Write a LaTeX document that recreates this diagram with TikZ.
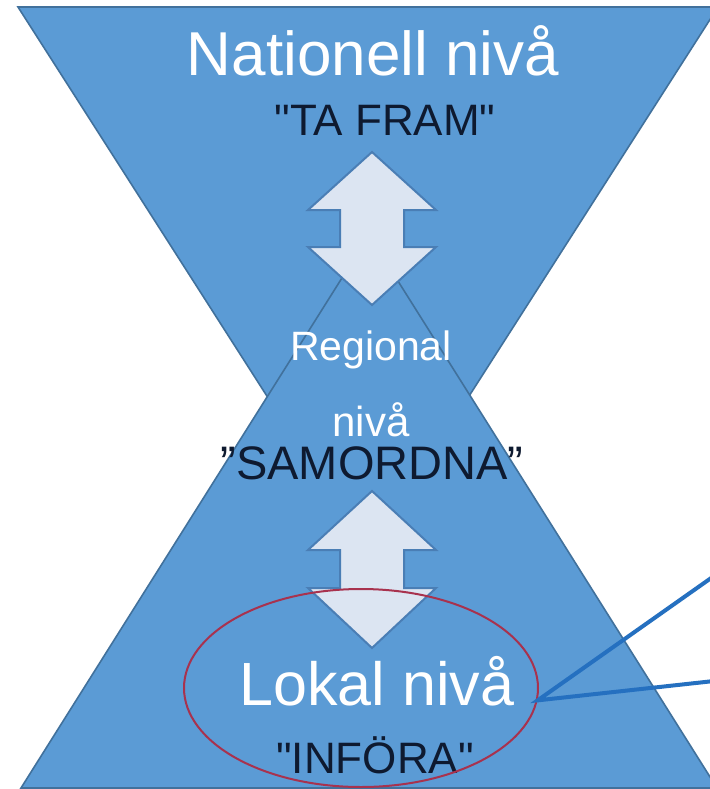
\documentclass[tikz,border=0pt]{standalone}
\usepackage{fontspec}
\setmainfont{Liberation Sans}[Ligatures=TeXOff]
\usetikzlibrary{shapes.geometric}
\definecolor{tri}{HTML}{5B9BD5}
\definecolor{triline}{HTML}{41719C}
\definecolor{arrfill}{HTML}{DCE5F2}
\definecolor{arrline}{HTML}{4A7EB5}
\definecolor{darktxt}{HTML}{0E1A30}
\definecolor{ellred}{HTML}{A8324E}
\definecolor{conncol}{HTML}{2570C0}
\tikzset{
  level/.style={fill=tri, draw=triline, line width=0.8pt, line join=miter},
  dblarrow/.style={fill=arrfill, draw=arrline, line width=1pt, line join=miter},
  whitetxt/.style={anchor=base, inner sep=0pt, text=white},
  blacktxt/.style={anchor=base, inner sep=0pt, text=darktxt},
  conn/.style={draw=conncol, line width=2pt, line join=miter},
}
\begin{document}
\begin{tikzpicture}[x=0.5pt,y=-0.5pt]
\useasboundingbox (0,0) rectangle (710,789);
\fill[white] (0,0) rectangle (710,789);
\clip (0,0) rectangle (710,789);
% top (national) triangle, pointing down
\path[level] (18,7) -- (718,7) -- (368,554) -- cycle;
% bottom (local) triangle, pointing up
\path[level] (369,235) -- (717,788) -- (21,788) -- cycle;
% upper double arrow
\path[dblarrow] (372,152) -- (436,210) -- (404,210) -- (404,247) -- (436,247) -- (372,305)
  -- (308,247) -- (340,247) -- (340,210) -- (308,210) -- cycle;
% lower double arrow
\path[dblarrow] (372,491) -- (436,550) -- (404,550) -- (404,588) -- (436,588) -- (372,648)
  -- (308,588) -- (340,588) -- (340,550) -- (308,550) -- cycle;
% texts
\node[whitetxt, font=\fontsize{31}{31}\selectfont] (nat) at (373,75) {Nationell nivå};
\node[blacktxt, font=\fontsize{22}{22}\selectfont] (taf) at (385,135) {"TA FRAM"};
\node[whitetxt, font=\fontsize{20.5}{20.5}\selectfont] (reg1) at (371,360) {Regional};
\node[whitetxt, font=\fontsize{21}{21}\selectfont, text depth=0pt] (reg2) at (371,436) {nivå};
\node[blacktxt, font=\fontsize{23.5}{23.5}\selectfont, text height=17pt] (sam) at (372,479) {”SAMORDNA”};
\node[whitetxt, font=\fontsize{30.5}{30.5}\selectfont] (lok) at (377,705) {Lokal nivå};
\node[blacktxt, font=\fontsize{22}{22}\selectfont] (inf) at (375,773) {"INFÖRA"};
% red ellipse
\node[ellipse, draw=ellred, line width=1pt, minimum width=177pt, minimum height=99pt, inner sep=0pt] (ell) at (361,688) {};
% connectors
\coordinate (e1) at (714,576);
\coordinate (e2) at (714,681);
\draw[conn] (e1) -- (ell.-4) -- (e2);
\end{tikzpicture}
\end{document}
